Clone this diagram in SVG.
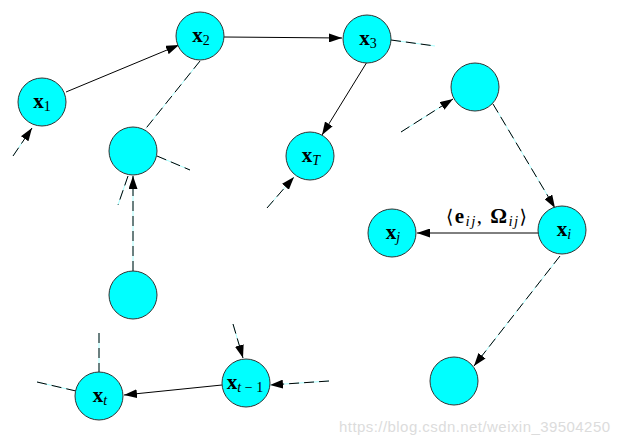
<svg xmlns="http://www.w3.org/2000/svg" width="620" height="444" viewBox="0 0 620 444">
<defs>
<marker id="ah" markerWidth="14" markerHeight="9" refX="13" refY="4.5" orient="auto" markerUnits="userSpaceOnUse">
<path d="M0,0 L13,4.5 L0,9 z" fill="#000"/>
</marker>
<style>
.node circle{fill:#00ffff;stroke:#333;stroke-width:1}
.lbl{font-family:"Liberation Serif","DejaVu Serif",serif;font-size:21px;font-weight:bold;fill:#000;text-anchor:middle}
.sub{font-size:14px;font-weight:normal}
.it{font-style:italic}
.solid{stroke:#000;stroke-width:1;fill:none}
.under{stroke:#aaffff;stroke-width:1;fill:none}
.dash{stroke:#000;stroke-width:1;fill:none;stroke-dasharray:10 5}
.wm{font-family:"Liberation Sans",Arial,sans-serif;font-size:15px;fill:#dcdcdc}
</style>
</defs>
<rect width="620" height="444" fill="#fff"/>
<g id="connectors">
<line class="solid" x1="66" y1="92" x2="179" y2="45" marker-end="url(#ah)"/>
<line class="solid" x1="224" y1="37" x2="342" y2="38" marker-end="url(#ah)"/>
<line class="solid" x1="367" y1="62" x2="322" y2="135" marker-end="url(#ah)"/>
<line class="solid" x1="539" y1="233" x2="417" y2="233" marker-end="url(#ah)"/>
<line class="solid" x1="222" y1="385" x2="124" y2="395" marker-end="url(#ah)"/>
<g>
<line class="under" x1="13" y1="156" x2="32" y2="128"/>
<line class="dash" x1="13" y1="156" x2="32" y2="128" marker-end="url(#ah)"/>
<line class="under" x1="200" y1="61" x2="143" y2="132"/>
<line class="dash" x1="200" y1="61" x2="143" y2="132"/>
<line class="under" x1="157" y1="156" x2="190" y2="170"/>
<line class="dash" x1="157" y1="156" x2="190" y2="170"/>
<line class="under" x1="128" y1="176" x2="118" y2="205"/>
<line class="dash" x1="128" y1="176" x2="118" y2="205"/>
<line class="under" x1="133" y1="271" x2="133" y2="176"/>
<line class="dash" x1="133" y1="271" x2="133" y2="176" marker-end="url(#ah)"/>
<line class="under" x1="391" y1="40" x2="435" y2="46"/>
<line class="dash" x1="391" y1="40" x2="435" y2="46"/>
<line class="under" x1="267" y1="208" x2="294" y2="177"/>
<line class="dash" x1="267" y1="208" x2="294" y2="177" marker-end="url(#ah)"/>
<line class="under" x1="401" y1="132" x2="453" y2="99"/>
<line class="dash" x1="401" y1="132" x2="453" y2="99" marker-end="url(#ah)"/>
<line class="under" x1="493" y1="104" x2="555" y2="208"/>
<line class="dash" x1="493" y1="104" x2="555" y2="208" marker-end="url(#ah)"/>
<line class="under" x1="560" y1="256" x2="474" y2="366"/>
<line class="dash" x1="560" y1="256" x2="474" y2="366" marker-end="url(#ah)"/>
<line class="under" x1="329" y1="381" x2="270" y2="385"/>
<line class="dash" x1="329" y1="381" x2="270" y2="385" marker-end="url(#ah)"/>
<line class="under" x1="233" y1="324" x2="243" y2="358"/>
<line class="dash" x1="233" y1="324" x2="243" y2="358" marker-end="url(#ah)"/>
<line class="under" x1="99" y1="333" x2="99" y2="372"/>
<line class="dash" x1="99" y1="333" x2="99" y2="372"/>
<line class="under" x1="76" y1="391" x2="37" y2="382"/>
<line class="dash" x1="76" y1="391" x2="37" y2="382"/>
</g>
<text x="446" y="223" textLength="81" lengthAdjust="spacing" font-family="'Liberation Serif','DejaVu Serif',serif" font-size="21"><tspan font-family="'DejaVu Serif',serif" font-size="19">⟨</tspan><tspan font-weight="bold">e</tspan><tspan class="it" font-size="15" dy="3">ij</tspan><tspan dy="-3">, </tspan><tspan font-weight="bold">Ω</tspan><tspan class="it" font-size="15" dy="3">ij</tspan><tspan dy="-3" font-family="'DejaVu Serif',serif" font-size="19">⟩</tspan></text>
</g>
<g id="n-x1" class="node"><circle cx="42" cy="102" r="24"/><text class="lbl" x="42" y="108">x<tspan class="sub" dy="3">1</tspan></text></g>
<g id="n-x2" class="node"><circle cx="200" cy="36" r="24"/><text class="lbl" x="201" y="42">x<tspan class="sub" dy="3">2</tspan></text></g>
<g id="n-x3" class="node"><circle cx="367" cy="39" r="24"/><text class="lbl" x="368" y="45">x<tspan class="sub" dy="3">3</tspan></text></g>
<g id="n-xT" class="node"><circle cx="310" cy="156" r="24"/><text class="lbl" x="311" y="162">x<tspan class="sub it" dy="3">T</tspan></text></g>
<g id="n-a" class="node"><circle cx="133" cy="151" r="24"/></g>
<g id="n-b" class="node"><circle cx="475" cy="87" r="24"/></g>
<g id="n-d" class="node"><circle cx="133" cy="295" r="24"/></g>
<g id="n-xi" class="node"><circle cx="562" cy="230" r="24"/><text class="lbl" x="564" y="236">x<tspan class="sub it" dy="3">i</tspan></text></g>
<g id="n-xj" class="node"><circle cx="392" cy="233" r="24"/><text class="lbl" x="393" y="239">x<tspan class="sub it" dy="3">j</tspan></text></g>
<g id="n-c" class="node"><circle cx="454" cy="381" r="24"/></g>
<g id="n-xt" class="node"><circle cx="99" cy="396" r="24"/><text class="lbl" x="100" y="402">x<tspan class="sub it" dy="3">t</tspan></text></g>
<g id="n-xt1" class="node"><circle cx="246" cy="383" r="24"/><text class="lbl" x="245" y="389">x<tspan class="sub" dy="3"><tspan class="it">t</tspan> − 1</tspan></text></g>
<text class="wm" x="339" y="432" textLength="271">https://blog.csdn.net/weixin_39504250</text>
</svg>
